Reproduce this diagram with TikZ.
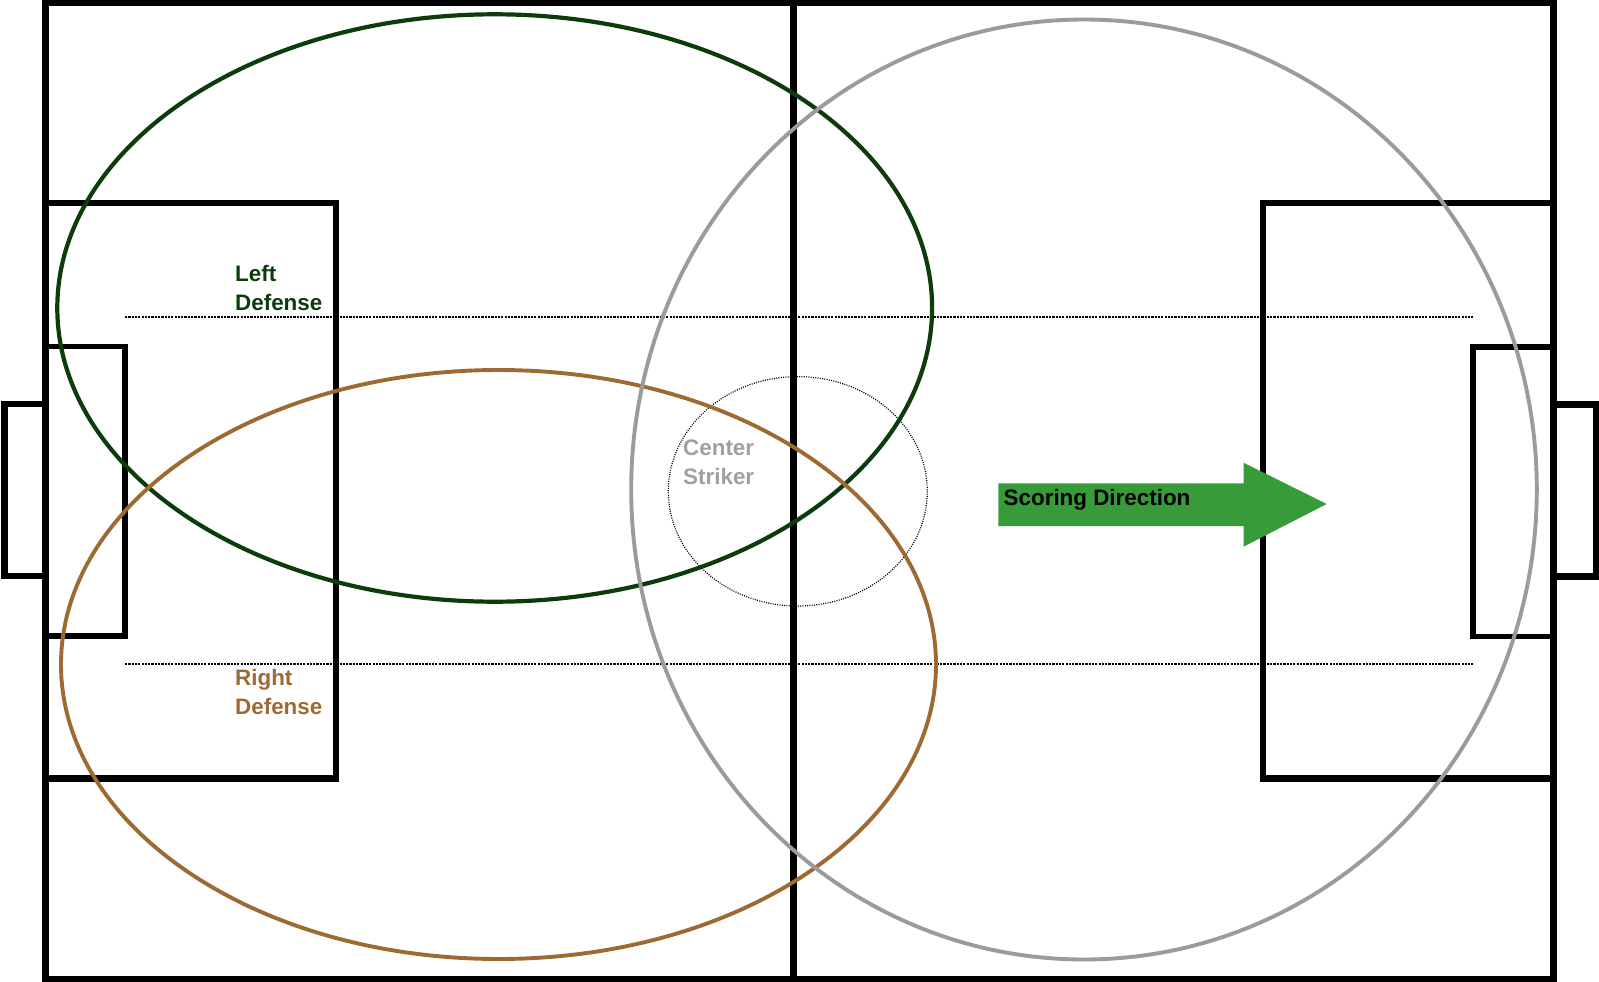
\documentclass[tikz,border=0pt]{standalone}
\usepackage{fontspec}
\setmainfont{Liberation Sans}
\definecolor{defgreen}{RGB}{12,60,12}
\definecolor{defbrown}{RGB}{158,106,52}
\definecolor{zonegray}{RGB}{155,155,155}
\definecolor{labelgray}{RGB}{160,160,160}
\definecolor{arrowgreen}{RGB}{54,155,56}
\tikzset{
  pitchline/.style={draw=black, line width=6.8pt, line join=miter},
  boxline/.style={draw=black, line width=6.4pt, line join=miter},
  smallline/.style={draw=black, line width=5.2pt, line join=miter},
  laneline/.style={draw=black, line width=2pt, dash pattern=on 2.2pt off 1.1pt},
  zone/.style={line width=3.9pt},
  lbl/.style={inner sep=0pt, font=\fontsize{22.4}{28.5}\selectfont\bfseries, align=left},
}
\begin{document}
\begin{tikzpicture}[x=1pt,y=-1pt]
\useasboundingbox (0,0) rectangle (1599,982);
% pitch
\draw[pitchline] (45.5,3) rectangle (1553.3,979);
\draw[pitchline] (793.3,3) -- (793.3,979);
% left side
\draw[boxline] (45.5,203) -- (336,203) -- (336,778.5) -- (45.5,778.5);
\draw[smallline] (45.5,346.5) -- (125,346.5) -- (125,636) -- (45.5,636);
\draw[boxline] (45.5,404) -- (4.3,404) -- (4.3,576) -- (45.5,576);
% right side
\draw[boxline] (1553.3,202.7) -- (1262.7,202.7) -- (1262.7,778.3) -- (1553.3,778.3);
\draw[smallline] (1553.3,347) -- (1473,347) -- (1473,636.5) -- (1553.3,636.5);
\draw[boxline] (1553.3,404.5) -- (1595.8,404.5) -- (1595.8,576.3) -- (1553.3,576.3);
% lanes
\draw[laneline] (125,317.3) -- (1473,317.3);
\draw[laneline] (125,664.3) -- (1473,664.3);
% center striker circle
\draw[black, line width=1.2pt, dash pattern=on 1pt off 1.3pt] (797.8,491.3) ellipse [x radius=129.5, y radius=114.7];
% zones
\draw[zone, draw=defgreen, line width=4.2pt] (494.7,308) ellipse [x radius=437.4, y radius=293.7];
\draw[zone, draw=defbrown] (498.5,664.5) ellipse [x radius=437.5, y radius=294.5];
\draw[zone, draw=zonegray] (1084,489.5) ellipse [x radius=452.8, y radius=470];
% arrow
\fill[arrowgreen] (998.3,483.3) -- (1243.5,483.3) -- (1243.5,462.7) -- (1326.7,504) -- (1243.5,546.7) -- (1243.5,526) -- (998.3,526) -- cycle;
% labels
\node[lbl, text=defgreen, anchor=north west] (left) at (235,265.3) {Left\\Defense};
\node[lbl, text=defbrown, anchor=north west] (right) at (235,669.3) {Right\\Defense};
\node[lbl, text=labelgray, anchor=north west] (striker) at (683,439.8) {Center\\Striker};
\node[lbl, text=black, anchor=base west] (score) at (1003.5,505.7) {Scoring Direction};
\end{tikzpicture}
\end{document}
